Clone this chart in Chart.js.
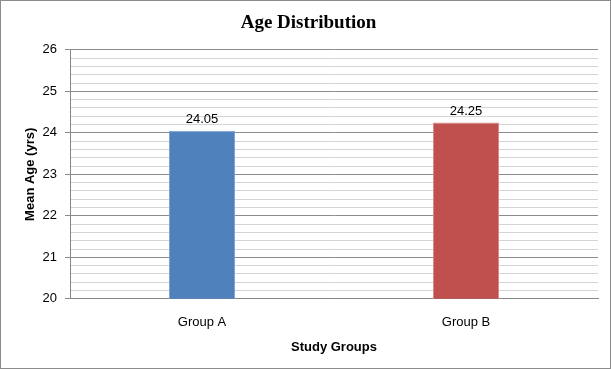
<!DOCTYPE html>
<html>
<head>
<meta charset="utf-8">
<script src="https://cdn.jsdelivr.net/npm/chart.js@4.4.0/dist/chart.umd.min.js"></script>
<style>
  html, body { margin: 0; padding: 0; background: #fff; }
  #wrap { position: relative; width: 611px; height: 369px; box-sizing: border-box; border: 1px solid #8c8c8c; }
  canvas { display: block; }
</style>
</head>
<body>
<div id="wrap"><canvas id="c" width="609" height="367"></canvas></div>
<script>
const categories = ["Group A", "Group B"];
const meanAge = [24.05, 24.25];
const barColors = ["#4F81BD", "#C0504D"];
const yMin = 20, yMax = 26, yStep = 0.2;
const chartTitle = "Age Distribution";
const xTitle = "Study Groups";
const yTitle = "Mean Age (yrs)";

const isMajor = v => Math.abs(v - Math.round(v)) < 1e-6;

const valueLabels = {
  id: 'valueLabels',
  afterDatasetsDraw(chart) {
    const ctx = chart.ctx;
    chart.data.datasets.forEach((ds, di) => {
      chart.getDatasetMeta(di).data.forEach((el, i) => {
        ctx.save();
        ctx.font = '13px "Liberation Sans", Arial, sans-serif';
        ctx.fillStyle = '#000';
        ctx.textAlign = 'center';
        ctx.textBaseline = 'bottom';
        ctx.fillText(ds.data[i].toFixed(2), el.x, el.y - 5);
        ctx.restore();
      });
    });
  }
};

new Chart(document.getElementById('c'), {
  type: 'bar',
  data: {
    labels: categories,
    datasets: [{
      data: meanAge,
      backgroundColor: barColors,
      borderColor: ["#7FA3D6", "#D98886"],
      borderWidth: 1,
      barPercentage: 0.5,
      categoryPercentage: 0.5
    }]
  },
  options: {
    responsive: false,
    animation: false,
    layout: { padding: { left: 18, right: 12, top: 11, bottom: 9 } },
    plugins: {
      legend: { display: false },
      tooltip: { enabled: false },
      title: {
        display: true,
        text: chartTitle,
        color: '#000',
        font: { family: '"Liberation Serif", "Times New Roman", serif', size: 19, weight: 'bold' },
        padding: { top: 0, bottom: 15 }
      }
    },
    scales: {
      x: {
        grid: { display: false },
        border: { display: true, color: '#868686' },
        ticks: { color: '#000', font: { family: '"Liberation Sans", Arial, sans-serif', size: 13 }, padding: 8 },
        title: {
          display: true, text: xTitle, color: '#000',
          font: { family: '"Liberation Sans", Arial, sans-serif', size: 13, weight: 'bold' },
          padding: { top: 1 }
        }
      },
      y: {
        min: yMin, max: yMax,
        afterFit(scale) { scale.width = 51; },
        ticks: {
          stepSize: yStep, autoSkip: false, color: '#000',
          font: { family: '"Liberation Sans", Arial, sans-serif', size: 13 },
          padding: 8,
          callback: v => isMajor(v) ? Math.round(v) : ''
        },
        grid: {
          color: c => isMajor(c.tick.value) ? '#8c8c8c' : '#d4d4d4',
          tickColor: c => isMajor(c.tick.value) ? '#8c8c8c' : 'rgba(0,0,0,0)',
          tickLength: 5
        },
        border: { display: true, color: '#868686' },
        title: {
          display: true, text: yTitle, color: '#000',
          font: { family: '"Liberation Sans", Arial, sans-serif', size: 13, weight: 'bold' },
          padding: { bottom: 4 }
        }
      }
    }
  },
  plugins: [valueLabels]
});
</script>
</body>
</html>
